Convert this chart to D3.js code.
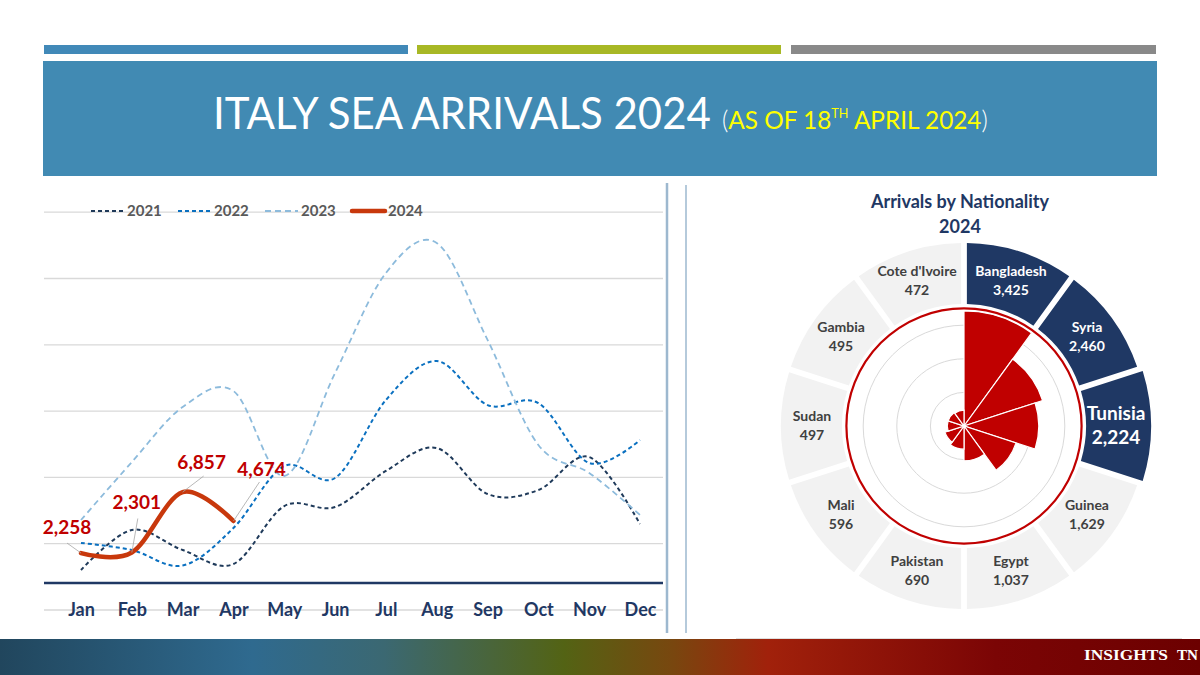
<!DOCTYPE html>
<html>
<head>
<meta charset="utf-8">
<script src="https://cdn.jsdelivr.net/npm/d3@7"></script>
<style>
  body { margin: 0; background: #fff; }
  svg { display: block; }
</style>
</head>
<body>
<div id="chart"></div>
<script>
// monthly sea arrivals
const months = ["Jan", "Feb", "Mar", "Apr", "May", "Jun", "Jul", "Aug", "Sep", "Oct", "Nov", "Dec"];
const years = ["2021", "2022", "2023", "2024"];
const s2021 = [980, 4000, 2490, 1430, 5800, 5730, 8450, 10180, 6710, 7010, 9500, 4450];
const s2022 = [3020, 2490, 1320, 4150, 8820, 7920, 13800, 16740, 13420, 13570, 9050, 10780];
const s2023 = [4750, 9120, 13270, 14480, 8070, 15840, 23380, 25640, 18330, 10410, 8300, 5130];
const s2024 = [2258, 2301, 6857, 4674];
const gridValues = [-2000, 3000, 8000, 13000, 18000, 23000, 28000];

// arrivals by nationality 2024
const nations = ["Bangladesh", "Syria", "Tunisia", "Guinea", "Egypt", "Pakistan", "Mali", "Sudan", "Gambia", "Cote d'Ivoire"];
const nationValues = [3425, 2460, 2224, 1629, 1037, 690, 596, 497, 495, 472];
const ringValues = [1000, 2000, 3000];
const topNations = ["Bangladesh", "Syria", "Tunisia"];

const W = 1200, H = 675;
const fmt = d3.format(",");

const svg = d3.select("#chart")
  .append("svg")
  .attr("width", W)
  .attr("height", H)
  .style("font-family", "Lato, 'Open Sans', sans-serif");

// fit a text element horizontally into a given width
const fitWidth = (sel, x0, width) => {
  const bb = sel.node().getBBox();
  const k = width / bb.width;
  sel.attr("transform", `translate(${x0},0) scale(${k},1) translate(${-bb.x},0)`);
};

/******************************** header ********************************/
const bars = [
  {x0: 44, x1: 408, c: "#4189b8"},
  {x0: 417, x1: 781, c: "#a8b825"},
  {x0: 791, x1: 1156, c: "#898989"}
];
svg.append("g").selectAll("rect")
  .data(bars)
  .join("rect")
    .attr("x", d => d.x0).attr("y", 45)
    .attr("width", d => d.x1 - d.x0).attr("height", 9)
    .attr("fill", d => d.c);

svg.append("rect")
  .attr("x", 43).attr("y", 61)
  .attr("width", 1114).attr("height", 115)
  .attr("fill", "#418ab3");

const title = svg.append("text")
  .attr("y", 129)
  .attr("fill", "#fff")
  .style("font-size", "44px")
  .text("ITALY SEA ARRIVALS 2024");
fitWidth(title, 213, 498);

const sub = svg.append("text")
  .attr("y", 129)
  .style("font-size", "25px");
sub.append("tspan").attr("fill", "#fff").style("font-weight", 300).text("(");
sub.append("tspan").attr("fill", "#ffff00").text("AS OF 18");
sub.append("tspan").attr("fill", "#ffff00").attr("dy", -11).style("font-size", "13px").text("TH");
sub.append("tspan").attr("fill", "#ffff00").attr("dy", 11).text(" APRIL 2024");
sub.append("tspan").attr("fill", "#fff").style("font-weight", 300).text(")");
fitWidth(sub, 722, 266);

/******************************** line chart ********************************/
const x = d3.scalePoint().domain(months).range([81, 640]);
const y = d3.scaleLinear().domain([0, 25000]).range([583, 251.5]);
const gridLeft = 44, gridRight = 663;

svg.append("g")
  .attr("transform", `translate(${gridLeft},0)`)
  .call(d3.axisLeft(y).tickValues(gridValues).tickSize(-(gridRight - gridLeft)).tickFormat(""))
  .call(g => g.select(".domain").remove())
  .call(g => g.selectAll(".tick line").attr("stroke", "#d9d9d9").attr("stroke-width", 1.3));

svg.append("line")
  .attr("x1", gridLeft).attr("x2", gridRight)
  .attr("y1", y(0)).attr("y2", y(0))
  .attr("stroke", "#1f3864").attr("stroke-width", 2.5);

svg.append("g")
  .attr("transform", `translate(0,${y(-2000)})`)
  .call(d3.axisBottom(x).tickSize(0))
  .call(g => g.select(".domain").remove())
  .call(g => g.selectAll("text")
    .attr("y", 0).attr("dy", "0.35em")
    .attr("fill", "#1f3864")
    .style("font-size", "18px")
    .style("font-weight", "bold")
    .style("font-family", "Lato, sans-serif"));

const series = [
  {name: "2021", values: s2021, color: "#1f3a5a", width: 2, dash: "4,3"},
  {name: "2022", values: s2022, color: "#0a70c0", width: 2, dash: "4,3"},
  {name: "2023", values: s2023, color: "#8dbbdc", width: 1.8, dash: "6,4"},
  {name: "2024", values: s2024, color: "#c8380c", width: 4.5, dash: null}
];

const line = d3.line()
  .x((d, i) => x(months[i]))
  .y(d => y(d))
  .curve(d3.curveCardinal);

svg.append("g")
  .attr("fill", "none")
  .selectAll("path")
  .data(series)
  .join("path")
    .attr("d", d => line(d.values))
    .attr("stroke", d => d.color)
    .attr("stroke-width", d => d.width)
    .attr("stroke-dasharray", d => d.dash)
    .attr("stroke-linecap", d => d.dash ? "butt" : "round");

// legend
const legend = svg.append("g")
  .selectAll("g")
  .data(series)
  .join("g")
    .attr("transform", (d, i) => `translate(${91 + i * 87},211)`);
legend.append("line")
  .attr("x1", 0).attr("x2", 33)
  .attr("stroke", d => d.color)
  .attr("stroke-width", d => d.name === "2024" ? 4.5 : 2)
  .attr("stroke-dasharray", d => d.dash)
  .attr("stroke-linecap", d => d.dash ? "butt" : "round");
legend.append("text")
  .attr("x", 36).attr("dy", "0.35em")
  .attr("fill", "#595959")
  .style("font-size", "15px")
  .style("font-weight", "bold")
  .text(d => d.name);

// 2024 data labels with leader lines
const labelOffsets = [[-14, -19], [5, -43], [19, -23], [28, -45]];
const leaderStarts = [[-14, -10], [6, -34], [21, -16], [26, -39]];

const labels = svg.append("g")
  .selectAll("g")
  .data(s2024)
  .join("g")
    .attr("transform", (d, i) => `translate(${x(months[i])},${y(d)})`);
labels.append("line")
  .attr("x1", (d, i) => leaderStarts[i][0])
  .attr("y1", (d, i) => leaderStarts[i][1])
  .attr("x2", 0).attr("y2", 0)
  .attr("stroke", "#a6a6a6").attr("stroke-width", 0.8);
labels.append("text")
  .attr("x", (d, i) => labelOffsets[i][0])
  .attr("y", (d, i) => labelOffsets[i][1])
  .attr("text-anchor", "middle")
  .attr("fill", "#c00000")
  .style("font-size", "19px")
  .style("font-weight", "bold")
  .text(d => fmt(d));

// panel dividers
svg.append("line")
  .attr("x1", 667).attr("x2", 667).attr("y1", 183).attr("y2", 633)
  .attr("stroke", "#9db8cf").attr("stroke-width", 2.5);
svg.append("line")
  .attr("x1", 686).attr("x2", 686).attr("y1", 185).attr("y2", 633)
  .attr("stroke", "#9db8cf").attr("stroke-width", 1.5);

/******************************** nationality rose ********************************/
const cx = 964, cy = 426;
const step = 2 * Math.PI / nations.length;
const r = d3.scaleLinear().domain([0, 3500]).range([0, 117.6]);

const rose = svg.append("g").attr("transform", `translate(${cx},${cy})`);

svg.append("text")
  .attr("x", 960).attr("y", 202).attr("dy", "0.35em")
  .attr("text-anchor", "middle")
  .attr("fill", "#1f3864")
  .style("font-size", "18px").style("font-weight", "bold")
  .text("Arrivals by Nationality");
svg.append("text")
  .attr("x", 960).attr("y", 227).attr("dy", "0.35em")
  .attr("text-anchor", "middle")
  .attr("fill", "#1f3864")
  .style("font-size", "18px").style("font-weight", "bold")
  .text("2024");

const ringArc = d3.arc()
  .innerRadius(122)
  .outerRadius(d => d.name === "Tunisia" ? 187 : 183)
  .startAngle(d => d.i * step)
  .endAngle(d => (d.i + 1) * step)
  .padAngle(0.036)
  .padRadius(160);

const nationData = nations.map((name, i) => ({name, value: nationValues[i], i}));

rose.append("g")
  .selectAll("path")
  .data(nationData)
  .join("path")
    .attr("d", ringArc)
    .attr("fill", d => topNations.includes(d.name) ? "#1f3864" : "#f2f2f2");

const ringLabels = rose.append("g")
  .selectAll("text")
  .data(nationData)
  .join("text")
    .attr("text-anchor", "middle")
    .attr("transform", d => {
      const a = (d.i + 0.5) * step;
      return `translate(${Math.sin(a) * 152},${-Math.cos(a) * 152})`;
    })
    .attr("fill", d => topNations.includes(d.name) ? "#fff" : "#404040")
    .style("font-weight", "bold")
    .style("font-size", d => d.name === "Tunisia" ? "19px" : "14px");
ringLabels.append("tspan")
  .attr("x", 0)
  .attr("y", d => d.name === "Tunisia" ? -6 : -5)
  .text(d => d.name);
ringLabels.append("tspan")
  .attr("x", 0)
  .attr("y", d => d.name === "Tunisia" ? 18 : 14)
  .text(d => fmt(d.value));

// inner circles
rose.append("g")
  .attr("fill", "none")
  .selectAll("circle")
  .data(ringValues)
  .join("circle")
    .attr("r", d => r(d))
    .attr("stroke", "#d9d9d9")
    .attr("stroke-width", 1);

const wedge = d3.arc()
  .innerRadius(0)
  .outerRadius(d => r(d.value))
  .startAngle(d => d.i * step)
  .endAngle(d => (d.i + 1) * step);

rose.append("g")
  .selectAll("path")
  .data(nationData)
  .join("path")
    .attr("d", wedge)
    .attr("fill", "#c00000")
    .attr("stroke", "#fff")
    .attr("stroke-width", 1.2);

rose.append("circle")
  .attr("r", r(3500))
  .attr("fill", "none")
  .attr("stroke", "#c00000")
  .attr("stroke-width", 2.2);

/******************************** footer ********************************/
const grad = svg.append("defs").append("linearGradient")
  .attr("id", "footer-grad")
  .attr("x1", "0%").attr("x2", "100%");
const stops = [
  [0, "#21465d"], [0.21, "#2f6a8f"], [0.32, "#3b6872"], [0.47, "#536314"],
  [0.56, "#78470f"], [0.64, "#a1210b"], [0.83, "#7b0505"], [1, "#6c0000"]
];
grad.selectAll("stop")
  .data(stops)
  .join("stop")
    .attr("offset", d => d[0])
    .attr("stop-color", d => d[1]);

svg.append("line")
  .attr("x1", 736).attr("x2", 1182).attr("y1", 639).attr("y2", 639)
  .attr("stroke", "#bfbfbf").attr("stroke-width", 1);

svg.append("rect")
  .attr("x", 0).attr("y", 639)
  .attr("width", W).attr("height", H - 639)
  .attr("fill", "url(#footer-grad)");

const footerWords = [["INSIGHTS", 1084, 84], ["TN", 1177, 21]];
svg.append("g")
  .selectAll("text")
  .data(footerWords)
  .join("text")
    .attr("x", d => d[1]).attr("y", 660)
    .attr("fill", "#fff")
    .attr("textLength", d => d[2])
    .attr("lengthAdjust", "spacingAndGlyphs")
    .style("font-family", "'Liberation Serif', serif")
    .style("font-weight", "bold")
    .style("font-size", "15px")
    .text(d => d[0]);
</script>
</body>
</html>
